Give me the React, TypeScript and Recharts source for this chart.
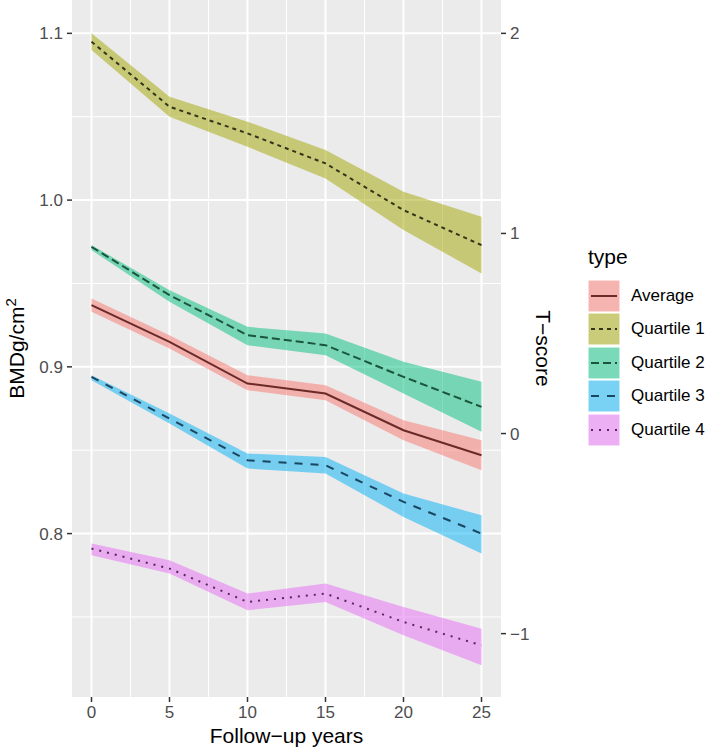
import {
  ComposedChart,
  Area,
  Line,
  XAxis,
  YAxis,
  CartesianGrid,
  Legend,
} from 'recharts';

const years = [0, 5, 10, 15, 20, 25];

const avgMid = [0.937, 0.915, 0.89, 0.884, 0.862, 0.847];
const avgLow = [0.933, 0.911, 0.886, 0.88, 0.856, 0.838];
const avgHigh = [0.941, 0.919, 0.895, 0.889, 0.868, 0.856];

const q1Mid = [1.095, 1.056, 1.04, 1.022, 0.994, 0.973];
const q1Low = [1.09, 1.05, 1.032, 1.013, 0.982, 0.956];
const q1High = [1.1, 1.062, 1.047, 1.03, 1.005, 0.99];

const q2Mid = [0.972, 0.943, 0.919, 0.913, 0.894, 0.876];
const q2Low = [0.97, 0.939, 0.913, 0.907, 0.884, 0.861];
const q2High = [0.973, 0.946, 0.924, 0.92, 0.903, 0.891];

const q3Mid = [0.894, 0.869, 0.844, 0.841, 0.819, 0.8];
const q3Low = [0.892, 0.866, 0.839, 0.836, 0.81, 0.788];
const q3High = [0.895, 0.872, 0.848, 0.846, 0.824, 0.811];

const q4Mid = [0.791, 0.779, 0.759, 0.764, 0.747, 0.733];
const q4Low = [0.787, 0.776, 0.754, 0.759, 0.739, 0.721];
const q4High = [0.794, 0.784, 0.764, 0.77, 0.756, 0.743];

const xTicks = [0, 5, 10, 15, 20, 25];
const bmdTicks = [0.8, 0.9, 1.0, 1.1];
const tTicks = [-1, 0, 1, 2];

const series = [
  { key: 'avg', name: 'Average', mid: avgMid, low: avgLow, high: avgHigh, fill: '#F8766D', line: '#6b2a28', dash: undefined },
  { key: 'q1', name: 'Quartile 1', mid: q1Mid, low: q1Low, high: q1High, fill: '#A3A500', line: '#34341a', dash: '4 4' },
  { key: 'q2', name: 'Quartile 2', mid: q2Mid, low: q2Low, high: q2High, fill: '#00BF7D', line: '#1b553c', dash: '8 4' },
  { key: 'q3', name: 'Quartile 3', mid: q3Mid, low: q3Low, high: q3High, fill: '#00B0F6', line: '#1c4560', dash: '8 8' },
  { key: 'q4', name: 'Quartile 4', mid: q4Mid, low: q4Low, high: q4High, fill: '#E76BF3', line: '#55285c', dash: '2 6' },
];

const data = years.map((year, i) => {
  const row: any = { year };
  series.forEach((s) => {
    row[s.key] = s.mid[i];
    row[s.key + 'Band'] = [s.low[i], s.high[i]];
  });
  return row;
});

const FONT = '"Liberation Sans", Arial, Helvetica, sans-serif';
const fmtT = (v: number) => (v < 0 ? '\u2212' + Math.abs(v) : String(v));

const XTitle = ({ viewBox }: any) => (
  <text x={viewBox.x + viewBox.width / 2} y={viewBox.y + 46} textAnchor="middle" fontSize={21} fill="#000" fontFamily={FONT}>
    Follow−up years
  </text>
);

const LeftTitle = ({ viewBox }: any) => {
  const cx = 24;
  const cy = viewBox.y + viewBox.height / 2;
  return (
    <text x={cx} y={cy} transform={`rotate(-90 ${cx} ${cy})`} textAnchor="middle" fontSize={21} fill="#000" fontFamily={FONT}>
      BMDg/cm<tspan dy={-8} fontSize={15}>2</tspan>
    </text>
  );
};

const RightTitle = ({ viewBox }: any) => {
  const cx = viewBox.x + 35;
  const cy = viewBox.y + viewBox.height / 2;
  return (
    <text x={cx} y={cy} transform={`rotate(90 ${cx} ${cy})`} textAnchor="middle" fontSize={21} fill="#000" fontFamily={FONT}>
      T−score
    </text>
  );
};

const TypeLegend = () => (
  <div style={{ fontFamily: FONT, color: '#000', whiteSpace: 'nowrap' }}>
    <div style={{ fontSize: 21, lineHeight: '24px', height: 34 }}>type</div>
    {series.map((s) => (
      <div key={s.key} style={{ display: 'flex', alignItems: 'center', height: 33.5 }}>
        <svg width={32} height={32} style={{ display: 'block', flexShrink: 0 }}>
          <rect x={0.5} y={0.5} width={31} height={31} fill="#F2F2F2" stroke="#ffffff" />
          <rect x={0.5} y={0.5} width={31} height={31} fill={s.fill} fillOpacity={0.5} />
          <line x1={3} y1={16} x2={29} y2={16} stroke={s.line} strokeWidth={2} strokeDasharray={s.dash} />
        </svg>
        <span style={{ fontSize: 17, marginLeft: 11 }}>{s.name}</span>
      </div>
    ))}
  </div>
);

export default function App() {
  return (
    <div style={{ position: 'absolute', left: 0, top: 0, width: 709, height: 749, background: '#fff' }}>
      <ComposedChart width={709} height={749} data={data} margin={{ top: 0, right: 148, bottom: 0, left: 0 }} style={{ fontFamily: FONT }}>
        <CartesianGrid
          yAxisId="left"
          fill="#EBEBEB"
          fillOpacity={1}
          stroke="#ffffff"
          strokeWidth={1}
          horizontalValues={[0.75, 0.85, 0.95, 1.05]}
          verticalValues={[2.5, 7.5, 12.5, 17.5, 22.5]}
        />
        <CartesianGrid
          yAxisId="left"
          stroke="#ffffff"
          strokeWidth={2}
          horizontalValues={bmdTicks}
          verticalValues={xTicks}
        />
        <XAxis
          type="number"
          dataKey="year"
          domain={[-1.25, 26.25]}
          ticks={xTicks}
          allowDataOverflow
          height={52}
          axisLine={false}
          tickSize={5}
          tickMargin={4}
          tickLine={{ stroke: '#333333', strokeWidth: 1.5 }}
          tick={{ fill: '#4D4D4D', fontSize: 17, fontFamily: FONT }}
          label={<XTitle />}
        />
        <YAxis
          yAxisId="left"
          type="number"
          domain={[0.702, 1.12]}
          ticks={bmdTicks}
          allowDataOverflow
          width={72}
          axisLine={false}
          tickSize={5}
          tickMargin={4}
          tickFormatter={(v: number) => v.toFixed(1)}
          tickLine={{ stroke: '#333333', strokeWidth: 1.5 }}
          tick={{ fill: '#4D4D4D', fontSize: 17, fontFamily: FONT }}
          label={<LeftTitle />}
        />
        <YAxis
          yAxisId="right"
          orientation="right"
          type="number"
          domain={[-1.3167, 2.1667]}
          ticks={tTicks}
          allowDataOverflow
          width={60}
          axisLine={false}
          tickSize={5}
          tickMargin={4}
          tickFormatter={fmtT}
          tickLine={{ stroke: '#333333', strokeWidth: 1.5 }}
          tick={{ fill: '#4D4D4D', fontSize: 17, fontFamily: FONT }}
          label={<RightTitle />}
        />
        {series.map((s) => (
          <Area
            key={s.key + 'Band'}
            yAxisId="left"
            type="linear"
            dataKey={s.key + 'Band'}
            stroke="none"
            fill={s.fill}
            fillOpacity={0.5}
            dot={false}
            activeDot={false}
            isAnimationActive={false}
          />
        ))}
        {series.map((s) => (
          <Line
            key={s.key}
            yAxisId="left"
            type="linear"
            dataKey={s.key}
            stroke={s.line}
            strokeWidth={2}
            strokeDasharray={s.dash}
            dot={false}
            activeDot={false}
            isAnimationActive={false}
          />
        ))}
        <Legend
          layout="horizontal"
          verticalAlign="middle"
          align="center"
          content={<TypeLegend />}
          wrapperStyle={{ left: 588, top: 245, width: 121 }}
        />
      </ComposedChart>
    </div>
  );
}
